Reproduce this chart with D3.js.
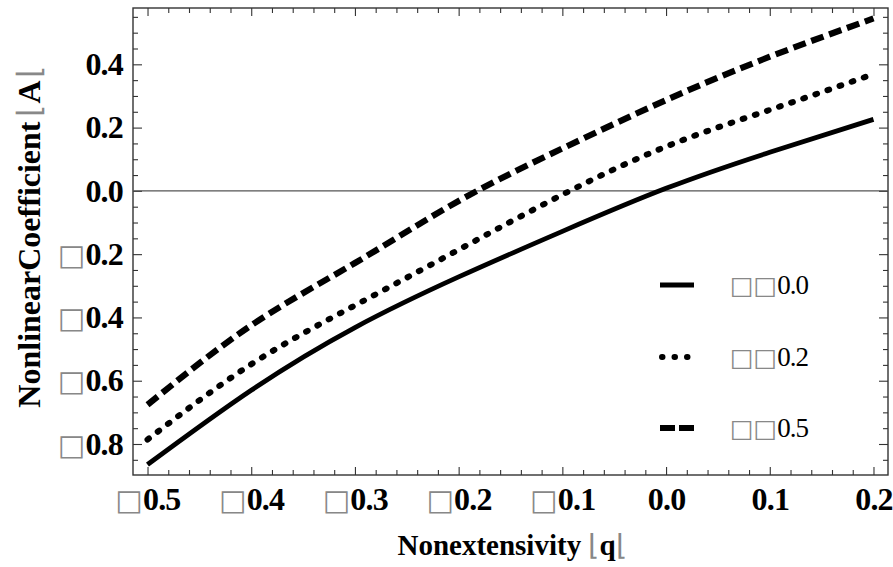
<!DOCTYPE html>
<html>
<head>
<meta charset="utf-8">
<script src="https://cdn.jsdelivr.net/npm/d3@7.9.0/dist/d3.min.js"></script>
<style>
  html, body { margin: 0; padding: 0; background: #fff; }
  svg { display: block; }
  .tick text { font-family: "Liberation Serif", "Times New Roman", serif; font-weight: bold; font-size: 32px; letter-spacing: -0.8px; fill: #000; }
  .tick line { stroke: #333; stroke-width: 1.1; }
  .box { font-family: "DejaVu Sans", sans-serif; font-weight: normal; fill: #888; font-size: 29px; letter-spacing: 0; }
  .lab { font-family: "Liberation Serif", "Times New Roman", serif; font-weight: bold; fill: #000; }
  .leg { font-family: "Liberation Serif", "Times New Roman", serif; font-size: 27px; letter-spacing: -1px; fill: #000; }
</style>
</head>
<body>
<svg width="893" height="567"></svg>
<script>
// values
const qValues = [-0.5, -0.4, -0.3, -0.2, -0.1, 0.0, 0.1, 0.2];
const alpha00 = [-0.865, -0.630, -0.432, -0.272, -0.128, 0.008, 0.122, 0.226];
const alpha02 = [-0.786, -0.548, -0.362, -0.186, -0.012, 0.140, 0.256, 0.369];
const alpha05 = [-0.676, -0.425, -0.228, -0.032, 0.134, 0.287, 0.424, 0.545];
const legendLabels = ['0.0', '0.2', '0.5'];

const xMajor = [-0.5, -0.4, -0.3, -0.2, -0.1, 0.0, 0.1, 0.2];
const yMajor = [-0.8, -0.6, -0.4, -0.2, 0.0, 0.2, 0.4];

const svg = d3.select('svg');
const pLeft = 133, pRight = 888, pTop = 8, pBottom = 475;

const x = d3.scaleLinear().domain([-0.514, 0.214]).range([pLeft, pRight]);
const y = d3.scaleLinear().domain([-0.898, 0.578]).range([pBottom, pTop]);

// minor tick positions
const xMinor = d3.range(-50, 21, 2).map(d => d / 100).filter(d => !xMajor.some(m => Math.abs(m - d) < 1e-9));
const yMinor = d3.range(-85, 56, 5).map(d => d / 100).filter(d => !yMajor.some(m => Math.abs(m - d) < 1e-9));

function labelTicks(sel) {
  sel.selectAll('.tick text').each(function (d) {
    const t = d3.select(this);
    t.text(null);
    if (d < -1e-9) t.append('tspan').attr('class', 'box').text('□');
    t.append('tspan').text(Math.abs(d).toFixed(1));
  });
}

// bottom axis
const gx = svg.append('g').attr('transform', `translate(0,${pBottom})`);
gx.call(d3.axisBottom(x).tickValues(xMajor).tickSize(-8).tickPadding(12));
gx.call(g => g.select('.domain').remove());
labelTicks(gx);
svg.append('g').attr('transform', `translate(0,${pBottom})`)
  .call(d3.axisBottom(x).tickValues(xMinor).tickSize(-5).tickFormat(''))
  .call(g => g.select('.domain').remove());

// top axis
svg.append('g').attr('transform', `translate(0,${pTop})`)
  .call(d3.axisTop(x).tickValues(xMajor).tickSize(-8).tickFormat(''))
  .call(g => g.select('.domain').remove());
svg.append('g').attr('transform', `translate(0,${pTop})`)
  .call(d3.axisTop(x).tickValues(xMinor).tickSize(-5).tickFormat(''))
  .call(g => g.select('.domain').remove());

// left axis
const gy = svg.append('g').attr('transform', `translate(${pLeft},0)`);
gy.call(d3.axisLeft(y).tickValues(yMajor).tickSize(-9).tickPadding(10));
gy.call(g => g.select('.domain').remove());
labelTicks(gy);
svg.append('g').attr('transform', `translate(${pLeft},0)`)
  .call(d3.axisLeft(y).tickValues(yMinor).tickSize(-5).tickFormat(''))
  .call(g => g.select('.domain').remove());

// right axis
svg.append('g').attr('transform', `translate(${pRight},0)`)
  .call(d3.axisRight(y).tickValues(yMajor).tickSize(-9).tickFormat(''))
  .call(g => g.select('.domain').remove());
svg.append('g').attr('transform', `translate(${pRight},0)`)
  .call(d3.axisRight(y).tickValues(yMinor).tickSize(-5).tickFormat(''))
  .call(g => g.select('.domain').remove());

// frame
svg.append('rect')
  .attr('x', pLeft).attr('y', pTop)
  .attr('width', pRight - pLeft).attr('height', pBottom - pTop)
  .attr('fill', 'none').attr('stroke', '#333').attr('stroke-width', 1.4);

// zero line
svg.append('line')
  .attr('x1', pLeft).attr('x2', pRight)
  .attr('y1', y(0)).attr('y2', y(0))
  .attr('stroke', '#555').attr('stroke-width', 1.2);

// curves
const series = [
  { vals: alpha00, dash: null, cap: 'butt', w: 4.8, legDash: null },
  { vals: alpha02, dash: '1.8,11', cap: 'round', w: 6, legDash: '0.5,12' },
  { vals: alpha05, dash: '13,6', cap: 'butt', w: 6.2, legDash: '15,4' }
];

const line = d3.line()
  .x(d => x(d[0]))
  .y(d => y(d[1]))
  .curve(d3.curveNatural);

svg.selectAll('path.curve')
  .data(series)
  .join('path')
  .attr('class', 'curve')
  .attr('d', s => line(qValues.map((q, i) => [q, s.vals[i]])))
  .attr('fill', 'none')
  .attr('stroke', '#000')
  .attr('stroke-width', s => s.w)
  .attr('stroke-linecap', s => s.cap)
  .attr('stroke-dasharray', s => s.dash);

// legend
const legY = [285, 357, 428];
const leg = svg.selectAll('g.legend')
  .data(series)
  .join('g')
  .attr('class', 'legend')
  .attr('transform', (_, i) => `translate(0,${legY[i]})`);

leg.append('line')
  .attr('x1', s => s.cap === 'round' ? 662 : 660)
  .attr('x2', 694)
  .attr('stroke', '#000')
  .attr('stroke-width', s => s.w)
  .attr('stroke-linecap', s => s.cap)
  .attr('stroke-dasharray', s => s.legDash);

leg.append('text')
  .attr('class', 'leg')
  .attr('x', 730)
  .attr('y', 9)
  .each(function (_, i) {
    const t = d3.select(this);
    t.append('tspan').attr('class', 'box').style('font-size', '25px').text('□□');
    t.append('tspan').text(legendLabels[i]);
  });

// axis titles
svg.append('text')
  .attr('class', 'lab')
  .attr('font-size', 29)
  .attr('text-anchor', 'middle')
  .attr('x', 512).attr('y', 555)
  .call(t => {
    t.append('tspan').text('Nonextensivity ');
    t.append('tspan').attr('fill', '#888').attr('font-weight', 'normal').text('⌊');
    t.append('tspan').text('q');
    t.append('tspan').attr('fill', '#888').attr('font-weight', 'normal').text('⌊');
  });

svg.append('text')
  .attr('class', 'lab')
  .attr('font-size', 32)
  .attr('text-anchor', 'middle')
  .attr('transform', 'translate(40,237) rotate(-90)')
  .call(t => {
    t.append('tspan').text('NonlinearCoefficient');
    t.append('tspan').attr('fill', '#888').attr('font-weight', 'normal').attr('dx', 4).text('⌊');
    t.append('tspan').attr('dx', 2).text('A');
    t.append('tspan').attr('fill', '#888').attr('font-weight', 'normal').attr('dx', 2).text('⌊');
  });
</script>
</body>
</html>
